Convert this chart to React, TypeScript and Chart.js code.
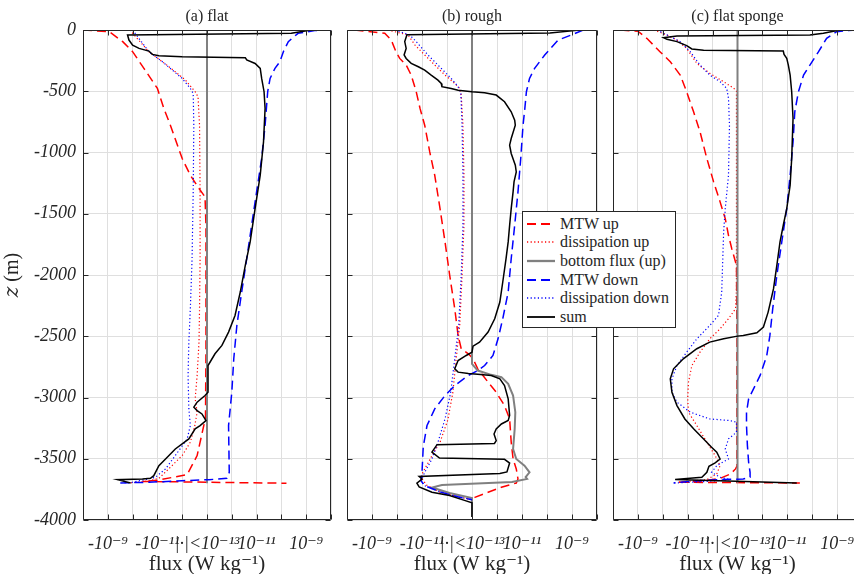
import React, { useEffect, useRef } from "react";
import { Chart, registerables } from "chart.js";

Chart.register(...registerables);

// ---------------- labels ----------------
const panelTitles = ["(a) flat", "(b) rough", "(c) flat sponge"];
const seriesNames = ["MTW up", "dissipation up", "bottom flux (up)", "MTW down", "dissipation down", "sum"];
const fluxTickPositions = [-4, -2, 0, 2, 4]; // decades from the 1e-13 threshold
const fluxTickLabels = ["-10⁻⁹", "-10⁻¹¹", "|·|<10⁻¹³", "10⁻¹¹", "10⁻⁹"];
const xTitle = "flux (W kg⁻¹)";
const yTitle = "𝑧 (m)";

// ---------------- data: [z (m), flux (W/kg)] ----------------
type Pt = [number, number];

// (a) flat
const mtwUpA: Pt[] = [[0,-1e-8],[-14,-8.7e-10],[-95,-2.5e-10],[-177,-1.0e-10],[-313,-3.5e-11],[-477,-1.0e-11],[-640,-5.5e-12],[-777,-3.0e-12],[-1049,-1.0e-12],[-1185,-4.7e-13],[-1294,-2.1e-13],[-1362,-1.2e-13],[-1600,-1.1e-13],[-2600,-1.1e-13],[-3175,-1.15e-13],[-3229,-1.35e-13],[-3474,-2.5e-13],[-3630,-6.3e-13],[-3675,-1.0e-11],[-3685,-4.0e-11],[-3700,1.6e-10]];
const dissUpA: Pt[] = [[0,-1.3e-10],[-177,-2.2e-11],[-259,-6.3e-12],[-341,-1.9e-12],[-409,-7.4e-13],[-504,-3.0e-13],[-545,-2.3e-13],[-777,-2.0e-13],[-1322,-1.9e-13],[-1867,-1.9e-13],[-2275,-2.0e-13],[-2548,-2.1e-13],[-2820,-2.5e-13],[-3011,-3.0e-13],[-3120,-2.5e-13],[-3229,-3.1e-13],[-3365,-4.7e-13],[-3474,-1.0e-12],[-3583,-3.5e-12],[-3660,-8.7e-12],[-3682,-2.2e-11],[-3698,-1.4e-10]];
const bottomA: Pt[] = [[0,0],[-3700,0]];
const mtwDownA: Pt[] = [[0,1e-8],[-5,2.2e-9],[-27,4.7e-10],[-95,1.9e-10],[-177,1.2e-10],[-259,8.7e-11],[-313,5.5e-11],[-395,3.5e-11],[-504,2.8e-11],[-777,2.2e-11],[-1049,1.6e-11],[-1322,1.0e-11],[-1594,6.3e-12],[-1867,4.0e-12],[-2139,2.5e-12],[-2412,1.6e-12],[-2684,1.2e-12],[-2957,1.0e-12],[-3229,7.4e-13],[-3611,7.9e-13],[-3660,6.3e-13],[-3671,1.2e-13],[-3679,-1.0e-12],[-3692,-2.2e-11],[-3698,-4.0e-10]];
const dissDownA: Pt[] = [[0,-1.0e-10],[-177,-2.2e-11],[-259,-6.3e-12],[-395,-1.0e-12],[-477,-4.7e-13],[-518,-3.6e-13],[-777,-3.4e-13],[-1322,-3.6e-13],[-1867,-4.0e-13],[-2275,-4.7e-13],[-2548,-5.4e-13],[-2820,-5.8e-13],[-3093,-5.4e-13],[-3229,-4.7e-13],[-3338,-6.3e-13],[-3474,-1.9e-12],[-3583,-4.7e-12],[-3651,-1.2e-11],[-3692,-1.0e-10],[-3698,-2.5e-10]];
const sumA: Pt[] = [[0,1.6e-9],[-27,2.5e-10],[-41,-1.6e-10],[-82,-1.4e-10],[-123,-1.0e-10],[-150,-5.5e-11],[-172,-2.2e-11],[-199,-1.6e-11],[-210,-8.7e-12],[-218,-1.0e-12],[-226,3.5e-12],[-245,4.0e-12],[-273,8.7e-12],[-313,1.4e-11],[-395,1.6e-11],[-504,2.0e-11],[-640,2.2e-11],[-913,1.9e-11],[-1185,1.4e-11],[-1458,8.7e-12],[-1730,5.5e-12],[-1921,3.5e-12],[-2139,2.2e-12],[-2330,1.35e-12],[-2466,7.4e-13],[-2575,4.0e-13],[-2643,2.1e-13],[-2739,1.1e-13],[-2957,1.1e-13],[-2984,-1.2e-13],[-3038,-2.5e-13],[-3079,-3.4e-13],[-3107,-2.5e-13],[-3134,-1.6e-13],[-3188,-1.1e-13],[-3229,-1.9e-13],[-3256,-3.0e-13],[-3338,-5.4e-13],[-3420,-1.9e-12],[-3502,-4.7e-12],[-3556,-8.7e-12],[-3638,-1.4e-11],[-3660,-1.9e-11],[-3665,-4.0e-11],[-3671,-4.0e-10],[-3698,-1.2e-10]];

// (b) rough
const mtwUpB: Pt[] = [[0,-5.0e-9],[-27,-3.1e-10],[-82,-1.7e-10],[-177,-1.1e-10],[-232,-7.8e-11],[-286,-4.3e-11],[-368,-2.7e-11],[-504,-1.7e-11],[-640,-1.2e-11],[-777,-7.8e-12],[-995,-4.9e-12],[-1185,-3.1e-12],[-1458,-1.9e-12],[-1730,-1.2e-12],[-2003,-7.8e-13],[-2275,-4.9e-13],[-2493,-3.6e-13],[-2602,-2.7e-13],[-2643,-1.4e-13],[-2684,1.1e-13],[-2766,1.7e-13],[-2875,4.4e-13],[-2957,9.3e-13],[-3066,2.0e-12],[-3175,3.2e-12],[-3365,3.7e-12],[-3502,4.4e-12],[-3583,5.9e-12],[-3665,6.9e-12],[-3698,5.9e-12],[-3733,1.5e-12],[-3774,4.4e-13],[-3815,1.3e-13],[-3829,0]];
const dissUpB: Pt[] = [[0,-2.3e-10],[-41,-3.6e-11],[-123,-1.9e-11],[-204,-7.8e-12],[-286,-3.1e-12],[-368,-1.2e-12],[-436,-4.9e-13],[-477,-3.1e-13],[-531,-2.7e-13],[-777,-2.3e-13],[-1185,-2.1e-13],[-1594,-2.1e-13],[-2003,-2.5e-13],[-2412,-3.1e-13],[-2684,-4.3e-13],[-2957,-5.8e-13],[-3184,-9.3e-13],[-3365,-1.9e-12],[-3453,-3.5e-12],[-3616,-9.5e-12],[-3657,-1.05e-11],[-3714,-6.6e-12],[-3771,-2.0e-12],[-3812,-3.1e-13],[-3834,0]];
const bottomB: Pt[] = [[0,0],[-2725,0],[-2780,1.7e-13],[-2815,5.9e-13],[-2834,1.5e-12],[-2889,2.8e-12],[-2984,4.4e-12],[-3120,5.4e-12],[-3256,5.1e-12],[-3420,4.4e-12],[-3502,5.9e-12],[-3556,1.26e-11],[-3611,2.0e-11],[-3650,1.4e-11],[-3665,1.6e-11],[-3690,4.0e-12],[-3714,-1.6e-12],[-3735,-4.0e-12],[-3780,-7.9e-13],[-3820,0],[-3975,0]];
const mtwDownB: Pt[] = [[0,2.8e-9],[-41,9.3e-10],[-82,2.8e-10],[-204,8.1e-11],[-313,3.2e-11],[-395,2.0e-11],[-504,1.5e-11],[-640,1.3e-11],[-777,1.1e-11],[-1049,8.9e-12],[-1322,6.9e-12],[-1594,5.1e-12],[-1867,3.7e-12],[-2139,2.8e-12],[-2357,1.7e-12],[-2521,1.1e-12],[-2657,6.9e-13],[-2739,3.2e-13],[-2780,1.7e-13],[-2820,-1.4e-13],[-2902,-4.9e-13],[-2984,-1.2e-12],[-3093,-3.1e-12],[-3229,-6.3e-12],[-3400,-8.9e-12],[-3611,-1.0e-11],[-3679,-1.1e-11],[-3720,-7.8e-12],[-3774,-1.7e-12],[-3815,-3.1e-13],[-3834,0]];
const dissDownB: Pt[] = [[0,-1.2e-10],[-41,-3.1e-11],[-95,-1.7e-11],[-204,-5.8e-12],[-313,-1.7e-12],[-395,-6.8e-13],[-463,-3.6e-13],[-518,-2.8e-13],[-777,-2.5e-13],[-1185,-2.3e-13],[-1594,-2.3e-13],[-2003,-2.7e-13],[-2412,-3.4e-13],[-2684,-4.9e-13],[-2957,-7.1e-13],[-3175,-1.2e-12],[-3365,-2.3e-12],[-3502,-4.0e-12],[-3611,-7.8e-12],[-3679,-1.1e-11],[-3720,-7.8e-12],[-3774,-1.7e-12],[-3815,-3.1e-13],[-3834,0]];
const sumB: Pt[] = [[0,-1.3e-9],[-3,1.6e-9],[-25,1.3e-10],[-38,-4.0e-11],[-95,-4.9e-11],[-150,-4.3e-11],[-204,-5.2e-11],[-232,-4.3e-11],[-272,-2.7e-11],[-300,-1.4e-11],[-327,-7.8e-12],[-368,-4.3e-12],[-409,-2.3e-12],[-436,-1.7e-12],[-463,-1.6e-12],[-477,-6.8e-13],[-491,-3.6e-13],[-504,0],[-512,3.2e-13],[-531,9.3e-13],[-586,2.0e-12],[-668,3.7e-12],[-736,5.1e-12],[-777,5.4e-12],[-886,3.7e-12],[-940,3.2e-12],[-1008,3.7e-12],[-1104,5.4e-12],[-1158,5.9e-12],[-1240,4.8e-12],[-1322,4.4e-12],[-1458,3.7e-12],[-1594,3.2e-12],[-1730,2.8e-12],[-1867,2.3e-12],[-2057,1.7e-12],[-2221,1.3e-12],[-2357,8.1e-13],[-2466,4.4e-13],[-2548,2.0e-13],[-2581,1.1e-13],[-2630,0],[-2657,-1.7e-13],[-2698,-3.6e-13],[-2766,-4.9e-13],[-2793,-3.6e-13],[-2805,-1.4e-13],[-2810,1.7e-13],[-2820,5.9e-13],[-2848,1.3e-12],[-2902,2.0e-12],[-3011,2.8e-12],[-3147,3.2e-12],[-3188,2.8e-12],[-3216,1.5e-12],[-3257,9.3e-13],[-3298,7.6e-13],[-3352,9.3e-13],[-3375,7.9e-13],[-3385,-2.5e-12],[-3445,-4.0e-12],[-3494,-2.0e-12],[-3505,2.0e-12],[-3535,3.2e-12],[-3608,2.5e-12],[-3620,1.3e-12],[-3645,-1.3e-11],[-3665,-1.0e-11],[-3700,-1.6e-11],[-3730,-1.3e-11],[-3774,-4.0e-12],[-3800,-7.9e-13],[-3840,-2.0e-13],[-3860,0],[-3975,0]];

// (c) flat sponge
const mtwUpC: Pt[] = [[0,-5.0e-9],[-10,-1.0e-9],[-68,-4.4e-10],[-177,-1.3e-10],[-259,-5.0e-11],[-368,-2.0e-11],[-504,-1.1e-11],[-668,-5.8e-12],[-831,-3.2e-12],[-1049,-1.7e-12],[-1240,-9.1e-13],[-1403,-5.0e-13],[-1540,-3.1e-13],[-1676,-2.3e-13],[-1785,-1.7e-13],[-1921,-1.1e-13],[-2500,-1.05e-13],[-3560,-1.05e-13],[-3583,-1.2e-13],[-3624,-1.9e-13],[-3660,-5.0e-13],[-3681,-2.3e-12],[-3692,-2.7e-11],[-3698,3.2e-11]];
const dissUpC: Pt[] = [[0,-2.3e-10],[-41,-6.8e-11],[-82,-2.7e-11],[-150,-1.1e-11],[-272,-4.3e-12],[-354,-1.3e-12],[-422,-3.6e-13],[-477,-1.4e-13],[-499,-1.1e-13],[-2112,-1.1e-13],[-2275,-1.2e-13],[-2357,-2.3e-13],[-2439,-5.0e-13],[-2521,-1.3e-12],[-2630,-3.2e-12],[-2739,-6.8e-12],[-2875,-9.3e-12],[-3011,-1.0e-11],[-3120,-9.3e-12],[-3229,-4.3e-12],[-3365,-1.7e-12],[-3474,-7.9e-13],[-3556,-5.0e-13],[-3624,-6.8e-13],[-3670,-1.7e-12],[-3692,-2.7e-11]];
const bottomC: Pt[] = [[0,0],[-3698,0]];
const mtwDownC: Pt[] = [[0,6.3e-9],[-5,2.8e-9],[-14,9.5e-10],[-68,3.8e-10],[-177,1.8e-10],[-286,8.1e-11],[-368,4.5e-11],[-504,2.8e-11],[-668,2.0e-11],[-913,1.7e-11],[-1185,1.3e-11],[-1458,9.5e-12],[-1730,6.0e-12],[-2003,3.8e-12],[-2275,2.6e-12],[-2493,2.0e-12],[-2657,1.5e-12],[-2820,8.1e-13],[-2930,4.4e-13],[-3011,2.8e-13],[-3120,2.3e-13],[-3229,2.3e-13],[-3393,2.5e-13],[-3529,2.8e-13],[-3611,3.2e-13],[-3651,3.2e-13],[-3665,1.7e-13],[-3670,-5.0e-13],[-3681,-5.8e-12],[-3698,-3.7e-11]];
const dissDownC: Pt[] = [[0,-1.7e-10],[-54,-5.0e-11],[-95,-2.0e-11],[-177,-7.9e-12],[-286,-3.2e-12],[-368,-1.3e-12],[-422,-5.0e-13],[-477,-2.7e-13],[-559,-2.3e-13],[-777,-2.1e-13],[-1185,-2.3e-13],[-1458,-3.1e-13],[-1649,-3.6e-13],[-1867,-3.9e-13],[-2139,-4.3e-13],[-2330,-5.8e-13],[-2412,-1.3e-12],[-2521,-4.3e-12],[-2630,-1.1e-11],[-2739,-2.7e-11],[-2848,-4.3e-11],[-2957,-4.3e-11],[-3038,-2.7e-11],[-3120,-7.9e-12],[-3175,-1.3e-12],[-3188,-2.0e-13],[-3202,-1.1e-13],[-3284,-1.1e-13],[-3338,-2.3e-13],[-3420,-3.1e-13],[-3502,-2.3e-13],[-3556,-6.8e-13],[-3611,-1.1e-12],[-3651,-5.0e-13],[-3670,-2.0e-13],[-3684,-1.3e-12],[-3698,-3.7e-11]];
const sumC: Pt[] = [[0,1.3e-9],[-27,2.8e-10],[-41,8.1e-11],[-49,-2.7e-11],[-63,-9.3e-11],[-76,-6.8e-11],[-95,-2.7e-11],[-128,-1.1e-11],[-155,-6.8e-12],[-166,-2.3e-12],[-172,6.9e-12],[-199,7.4e-12],[-232,9.5e-12],[-286,1.1e-11],[-368,1.3e-11],[-504,1.5e-11],[-722,1.7e-11],[-1049,1.5e-11],[-1267,1.3e-11],[-1458,9.5e-12],[-1594,6.9e-12],[-1730,5.1e-12],[-1921,3.8e-12],[-2112,2.8e-12],[-2303,1.7e-12],[-2425,1.1e-12],[-2472,6.0e-13],[-2493,1.7e-13],[-2499,0],[-2521,-3.6e-13],[-2548,-1.3e-12],[-2602,-4.3e-12],[-2684,-1.5e-11],[-2766,-3.7e-11],[-2848,-5.0e-11],[-2957,-4.3e-11],[-3066,-2.7e-11],[-3175,-1.3e-11],[-3256,-5.8e-12],[-3338,-2.3e-12],[-3406,-1.1e-12],[-3447,-6.8e-13],[-3502,-5.0e-13],[-3534,-7.9e-13],[-3561,-1.4e-12],[-3611,-1.7e-12],[-3651,-2.7e-12],[-3670,-3.2e-11],[-3698,2.4e-11]];

// ---------------- helpers & styles ----------------
const THRESH = 1e-13;
const symlog = (f: number) => {
  const a = Math.abs(f);
  return a <= THRESH ? 0 : Math.sign(f) * Math.log10(a / THRESH);
};

const FONT = '"Liberation Serif", "DejaVu Serif", "Noto Serif", "Times New Roman", Times, serif';
const TXT = "#262626";
const GRID = "#dfdfdf";

const STYLES = [
  { color: "#ff0000", width: 1.5, dash: [9, 5] },
  { color: "#ff0000", width: 1.2, dash: [1.2, 2.4] },
  { color: "#808080", width: 2, dash: [] as number[] },
  { color: "#0000ff", width: 1.5, dash: [9, 5] },
  { color: "#0000ff", width: 1.2, dash: [1.2, 2.4] },
  { color: "#000000", width: 1.5, dash: [] as number[] },
];

const panelSeries: Pt[][][] = [
  [mtwUpA, dissUpA, bottomA, mtwDownA, dissDownA, sumA],
  [mtwUpB, dissUpB, bottomB, mtwDownB, dissDownB, sumB],
  [mtwUpC, dissUpC, bottomC, mtwDownC, dissDownC, sumC],
];

const panelLayout = [
  { left: 0, width: 340, axisWidth: 83, showY: true },
  { left: 338, width: 268, axisWidth: 9, showY: false },
  { left: 603, width: 268, axisWidth: 10, showY: false },
];

const CANVAS_H = 590;

const boxPlugin = {
  id: "matlabBox",
  afterDatasetsDraw(chart: any) {
    const { ctx, chartArea } = chart;
    const xs = chart.scales.x;
    const ys = chart.scales.y;
    const L = Math.round(chartArea.left) + 0.5;
    const R = Math.round(chartArea.right) - 0.5;
    const T = Math.round(chartArea.top) + 0.5;
    const B = Math.round(chartArea.bottom) - 0.5;
    ctx.save();
    ctx.setLineDash([]);
    ctx.strokeStyle = TXT;
    ctx.lineWidth = 1;
    ctx.beginPath();
    ctx.rect(L, T, R - L, B - T);
    xs.ticks.forEach((t: any) => {
      const p = Math.round(xs.getPixelForValue(t.value)) + 0.5;
      ctx.moveTo(p, B); ctx.lineTo(p, B - 5);
      ctx.moveTo(p, T); ctx.lineTo(p, T + 5);
    });
    ys.ticks.forEach((t: any) => {
      const p = Math.round(ys.getPixelForValue(t.value)) + 0.5;
      ctx.moveTo(L, p); ctx.lineTo(L + 5, p);
      ctx.moveTo(R, p); ctx.lineTo(R - 5, p);
    });
    ctx.stroke();
    ctx.restore();
  },
};

function Panel({ idx }: { idx: number }) {
  const ref = useRef<HTMLCanvasElement>(null);
  const lay = panelLayout[idx];
  useEffect(() => {
    const chart = new Chart(ref.current as HTMLCanvasElement, {
      type: "scatter",
      data: {
        datasets: panelSeries[idx].map((pts, i) => ({
          label: seriesNames[i],
          data: pts.map(([z, f]) => ({ x: symlog(f), y: z })),
          showLine: true,
          borderColor: STYLES[i].color,
          backgroundColor: STYLES[i].color,
          borderWidth: STYLES[i].width,
          borderDash: STYLES[i].dash,
          pointRadius: 0,
          pointHoverRadius: 0,
          tension: 0,
          fill: false,
          order: 5 - i,
        })),
      },
      options: {
        responsive: false,
        animation: false,
        devicePixelRatio: 1,
        events: [],
        layout: { padding: { left: 0, right: 9, top: 0, bottom: 0 } },
        plugins: {
          legend: { display: false },
          tooltip: { enabled: false },
          title: {
            display: true,
            text: panelTitles[idx],
            fullSize: false,
            color: TXT,
            font: { family: FONT, size: 16, weight: "normal", lineHeight: 1.2 },
            padding: { top: 7, bottom: 3.8 },
          },
        },
        scales: {
          x: {
            type: "linear",
            min: -5,
            max: 5,
            ticks: {
              stepSize: 1,
              autoSkip: false,
              maxRotation: 0,
              padding: 0,
              color: TXT,
              font: { family: FONT, size: 18, style: "italic", lineHeight: 2.67 },
              callback: (v: any) => {
                const k = fluxTickPositions.indexOf(Math.round(Number(v)));
                return k >= 0 ? fluxTickLabels[k] : "";
              },
            },
            grid: { color: GRID, drawTicks: false },
            border: { display: false },
            title: {
              display: true,
              text: xTitle,
              color: TXT,
              font: { family: FONT, size: 21, lineHeight: 1.2 },
              padding: { top: 0, bottom: 12.8 },
            },
            afterFit: (s: any) => { s.height = CANVAS_H - 520; },
          },
          y: {
            type: "linear",
            min: -4000,
            max: 0,
            ticks: {
              stepSize: 500,
              display: lay.showY,
              padding: 7,
              color: TXT,
              font: { family: FONT, size: 18, style: "italic" },
              callback: (v: any) => String(v),
            },
            grid: { color: GRID, drawTicks: false },
            border: { display: false },
            title: {
              display: lay.showY,
              text: yTitle,
              color: TXT,
              font: { family: FONT, size: 20, lineHeight: 1.2 },
              padding: { top: 1, bottom: 0 },
            },
            afterFit: (s: any) => { s.width = lay.axisWidth; },
          },
        },
      } as any,
      plugins: [boxPlugin],
    });
    return () => chart.destroy();
  }, [idx]);
  return (
    <canvas
      ref={ref}
      width={lay.width}
      height={CANVAS_H}
      style={{ position: "absolute", left: lay.left, top: 0, width: lay.width, height: CANVAS_H }}
    />
  );
}

function Legend() {
  return (
    <div
      style={{
        position: "absolute",
        left: 522,
        top: 211,
        width: 154,
        height: 117,
        boxSizing: "border-box",
        border: `1px solid ${TXT}`,
        background: "#ffffff",
        zIndex: 2,
        fontFamily: FONT,
        fontSize: 16,
        color: TXT,
      }}
    >
      {seriesNames.map((name, i) => (
        <div
          key={name}
          style={{
            position: "absolute",
            left: 4,
            top: 11.7 + 18.6 * i - 10,
            height: 20,
            display: "flex",
            alignItems: "center",
            whiteSpace: "nowrap",
          }}
        >
          <svg width={28} height={6} style={{ display: "block" }}>
            <line
              x1={0}
              y1={3}
              x2={28}
              y2={3}
              stroke={STYLES[i].color}
              strokeWidth={STYLES[i].width + 0.3}
              strokeDasharray={STYLES[i].dash.length ? STYLES[i].dash.join(" ") : undefined}
            />
          </svg>
          <span style={{ marginLeft: 5, lineHeight: "20px" }}>{name}</span>
        </div>
      ))}
    </div>
  );
}

export default function App() {
  return (
    <div
      style={{
        position: "absolute",
        left: 0,
        top: 0,
        width: 854,
        height: 574,
        overflow: "hidden",
        background: "#ffffff",
      }}
    >
      {panelTitles.map((_, i) => (
        <Panel key={i} idx={i} />
      ))}
      <Legend />
    </div>
  );
}
